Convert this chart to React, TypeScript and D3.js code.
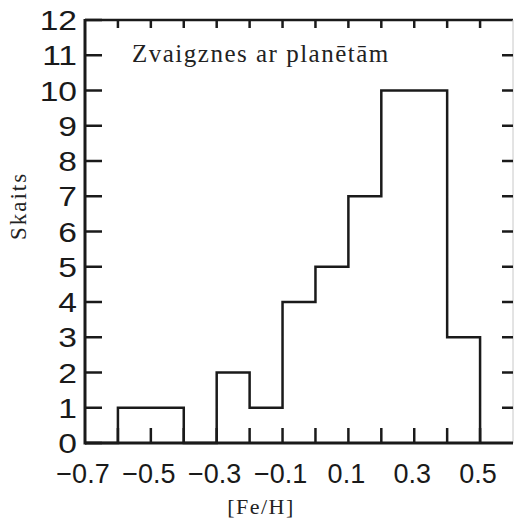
import React, { useEffect, useRef } from 'react';
import * as d3 from 'd3';

// histogram of [Fe/H] for stars with planets, bins of 0.1 starting at -0.7
const binStarts = [-0.7, -0.6, -0.5, -0.4, -0.3, -0.2, -0.1, 0.0, 0.1, 0.2, 0.3, 0.4];
const counts = [0, 1, 1, 0, 2, 1, 4, 5, 7, 10, 10, 3];
const xTickLabels = [-0.7, -0.5, -0.3, -0.1, 0.1, 0.3, 0.5];
const xMinorTicks = [-0.6, -0.5, -0.4, -0.3, -0.2, -0.1, 0.0, 0.1, 0.2, 0.3, 0.4, 0.5];
const yTicks = [0, 1, 2, 3, 4, 5, 6, 7, 8, 9, 10, 11, 12];

const W = 514;
const H = 521;

export default function App() {
  const ref = useRef<SVGSVGElement>(null);

  useEffect(() => {
    const svg = d3.select(ref.current);
    svg.selectAll('*').remove();

    const x = d3.scaleLinear().domain([-0.7, 0.6]).range([85, 513]);
    const y = d3.scaleLinear().domain([0, 12]).range([443, 20]);
    const ink = '#1a1a1a';

    // frame
    svg.append('line').attr('x1', 85).attr('x2', 513).attr('y1', y(12)).attr('y2', y(12))
      .attr('stroke', ink).attr('stroke-width', 2.5);
    svg.append('line').attr('x1', 513).attr('x2', 513).attr('y1', y(12)).attr('y2', y(0))
      .attr('stroke', '#c8c8c8').attr('stroke-width', 1);
    svg.append('line').attr('x1', x(-0.7)).attr('x2', x(-0.7)).attr('y1', y(12) - 1).attr('y2', y(0) + 1.5)
      .attr('stroke', ink).attr('stroke-width', 3);
    svg.append('line').attr('x1', x(-0.7)).attr('x2', 513).attr('y1', y(0)).attr('y2', y(0))
      .attr('stroke', ink).attr('stroke-width', 3);

    // y ticks, left and right
    svg.selectAll('.ytl').data(yTicks).enter().append('line')
      .attr('x1', x(-0.7)).attr('x2', x(-0.7) + 17)
      .attr('y1', d => y(d)).attr('y2', d => y(d))
      .attr('stroke', ink).attr('stroke-width', 2.5);
    svg.selectAll('.ytr').data(yTicks.slice(1, -1)).enter().append('line')
      .attr('x1', 502).attr('x2', 513)
      .attr('y1', d => y(d)).attr('y2', d => y(d))
      .attr('stroke', ink).attr('stroke-width', 2.5);

    // x ticks, top and bottom
    svg.selectAll('.xtt').data(xMinorTicks).enter().append('line')
      .attr('x1', d => x(d)).attr('x2', d => x(d))
      .attr('y1', y(12)).attr('y2', y(12) + 8)
      .attr('stroke', ink).attr('stroke-width', 2.5);
    svg.selectAll('.xtb').data(xMinorTicks).enter().append('line')
      .attr('x1', d => x(d)).attr('x2', d => x(d))
      .attr('y1', y(0)).attr('y2', y(0) - 15)
      .attr('stroke', ink).attr('stroke-width', 2.5);

    // histogram outline
    const pts: [number, number][] = binStarts.map((b, i) => [b, counts[i]]);
    pts.push([0.5, 0]);
    const step = d3.line<[number, number]>()
      .x(d => x(d[0]))
      .y(d => y(d[1]))
      .curve(d3.curveStepAfter);
    svg.append('path')
      .attr('d', step(pts))
      .attr('fill', 'none')
      .attr('stroke', ink)
      .attr('stroke-width', 2.5);

    // tick labels
    svg.selectAll('.ylab').data(yTicks).enter().append('text')
      .attr('transform', d => `translate(77, ${y(d)}) scale(1.2, 1)`)
      .attr('dy', '0.36em')
      .attr('text-anchor', 'end')
      .style('font-family', '"Liberation Sans", Arial, sans-serif')
      .style('font-size', '28px')
      .attr('fill', ink)
      .text(d => d);

    svg.selectAll('.xlab').data(xTickLabels).enter().append('text')
      .attr('x', d => x(d) - 2)
      .attr('y', 483)
      .attr('text-anchor', 'middle')
      .style('font-family', '"Liberation Sans", Arial, sans-serif')
      .style('font-size', '27px')
      .attr('fill', ink)
      .text(d => d3.format('.1f')(d).replace('-', '\u2212'));

    // titles
    svg.append('text')
      .attr('x', 132).attr('y', 62)
      .style('font-family', '"Liberation Serif", "Times New Roman", serif')
      .style('font-size', '25px')
      .style('letter-spacing', '1.5px')
      .attr('fill', '#222')
      .text('Zvaigznes ar planētām');

    svg.append('text')
      .attr('transform', 'translate(26, 206) rotate(-90)')
      .attr('text-anchor', 'middle')
      .style('font-family', '"Liberation Serif", "Times New Roman", serif')
      .style('font-size', '23px')
      .style('letter-spacing', '2px')
      .attr('fill', '#222')
      .text('Skaits');

    svg.append('text')
      .attr('x', 261).attr('y', 514)
      .attr('text-anchor', 'middle')
      .style('font-family', '"Liberation Serif", "Times New Roman", serif')
      .style('font-size', '22px')
      .style('letter-spacing', '1.5px')
      .attr('fill', '#222')
      .text('[Fe/H]');
  }, []);

  return (
    <svg
      ref={ref}
      width={W}
      height={H}
      style={{ position: 'absolute', left: 0, top: 0, background: '#fff' }}
    />
  );
}
